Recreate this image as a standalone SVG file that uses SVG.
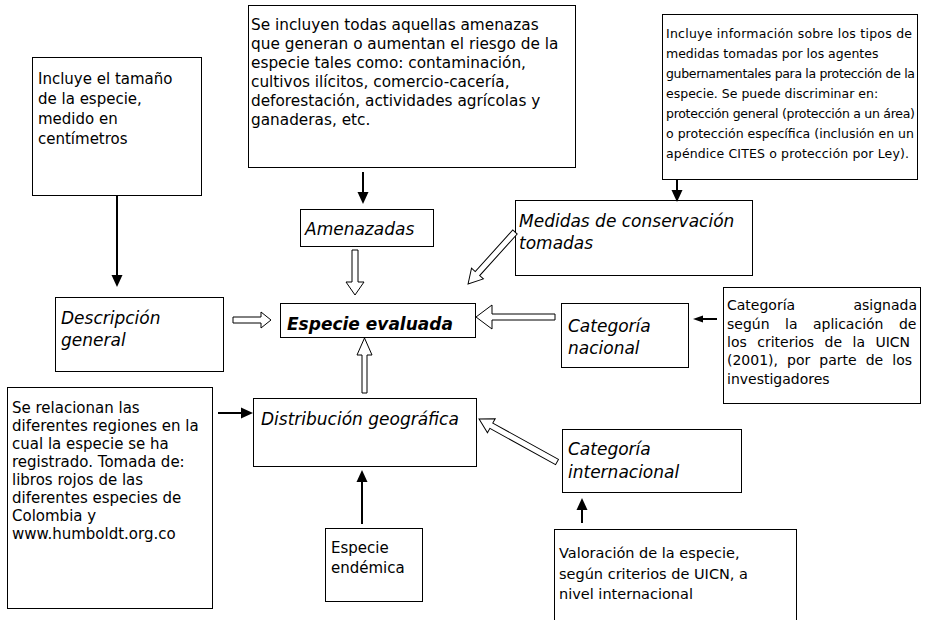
<svg xmlns="http://www.w3.org/2000/svg" width="927" height="620" viewBox="0 0 927 620">
<style>
.box{fill:#fff;stroke:#000;stroke-width:1}
.t{font-family:"DejaVu Sans","Liberation Sans",sans-serif;font-size:15px;fill:#000}
.lab{font-style:italic;font-size:17px}
.blk{fill:#fff;stroke:#000;stroke-width:1}
.sol{stroke:#000;stroke-width:2;fill:none}
</style>
<defs>
<marker id="ah" markerWidth="12" markerHeight="12" refX="2" refY="6" orient="auto" markerUnits="userSpaceOnUse"><path d="M0,0.5 L12,6 L0,11.5 Z" fill="#000"/></marker>
<marker id="ahs" markerWidth="10" markerHeight="8" refX="2" refY="4" orient="auto" markerUnits="userSpaceOnUse"><path d="M0,0.5 L10,4 L0,7.5 Z" fill="#000"/></marker>
</defs>
<rect width="927" height="620" fill="#fff"/>

<g id="n-tamano">
<rect class="box" x="32.5" y="57.5" width="169" height="138"/>
<text class="t" x="38"><tspan x="38" y="84">Incluye el tamaño</tspan><tspan x="38" y="104">de la especie,</tspan><tspan x="38" y="124">medido en</tspan><tspan x="38" y="144">centímetros</tspan></text>
</g>

<g id="n-amenazas-info">
<rect class="box" x="248.5" y="5.5" width="327" height="162"/>
<text class="t" style="font-size:15.3px"><tspan x="251" y="29.5">Se incluyen todas aquellas amenazas</tspan><tspan x="251" y="48.5">que generan o aumentan el riesgo de la</tspan><tspan x="251" y="67.5">especie tales como: contaminación,</tspan><tspan x="251" y="87">cultivos ilícitos, comercio-cacería,</tspan><tspan x="251" y="106">deforestación, actividades agrícolas y</tspan><tspan x="251" y="125">ganaderas, etc.</tspan></text>
</g>

<g id="n-medidas-info">
<rect class="box" x="662.5" y="14.5" width="255" height="165"/>
<text class="t" style="font-size:12.5px" x="666" y="38" textLength="246" lengthAdjust="spacing">Incluye información sobre los tipos de</text>
<text class="t" style="font-size:12.5px" x="666" y="58">medidas tomadas por los agentes</text>
<text class="t" style="font-size:12.5px" x="666" y="78" textLength="249" lengthAdjust="spacing">gubernamentales para la protección de la</text>
<text class="t" style="font-size:12.5px" x="666" y="98">especie. Se puede discriminar en:</text>
<text class="t" style="font-size:12.5px" x="666" y="118" textLength="249" lengthAdjust="spacing">protección general (protección a un área)</text>
<text class="t" style="font-size:12.5px" x="666" y="138" textLength="248" lengthAdjust="spacing">o protección específica (inclusión en un</text>
<text class="t" style="font-size:12.5px" x="666" y="158" textLength="243" lengthAdjust="spacing">apéndice CITES o protección por Ley).</text>
</g>

<g id="n-amenazadas">
<rect class="box" x="300.5" y="209.5" width="133" height="37"/>
<text class="t lab" x="305" y="235">Amenazadas</text>
</g>

<g id="n-medidas">
<rect class="box" x="515.5" y="200.5" width="237" height="75"/>
<text class="t lab"><tspan x="519" y="227">Medidas de conservación</tspan><tspan x="519" y="249">tomadas</tspan></text>
</g>

<g id="n-descripcion">
<rect class="box" x="55.5" y="297.5" width="168" height="74"/>
<text class="t lab"><tspan x="61" y="324">Descripción</tspan><tspan x="61" y="346">general</tspan></text>
</g>

<g id="n-especie">
<rect class="box" x="280.5" y="303.5" width="195" height="34"/>
<text class="t lab" x="287" y="329.5" style="font-weight:bold">Especie evaluada</text>
</g>

<g id="n-cat-nacional">
<rect class="box" x="561.5" y="303.5" width="127" height="64"/>
<text class="t lab"><tspan x="568" y="332">Categoría</tspan><tspan x="568" y="354">nacional</tspan></text>
</g>

<g id="n-cat-asignada">
<rect class="box" x="723.5" y="287.5" width="197" height="116"/>
<text class="t" style="font-size:14px"><tspan x="727" y="310">Categoría</tspan><tspan x="917" y="310" text-anchor="end">asignada</tspan></text>
<text class="t" style="font-size:14px;word-spacing:11px" x="727" y="328.5">según la aplicación de</text>
<text class="t" style="font-size:14px;word-spacing:6px" x="727" y="347">los criterios de la UICN</text>
<text class="t" style="font-size:14px;word-spacing:4.6px" x="727" y="365">(2001), por parte de los</text>
<text class="t" style="font-size:14px" x="727" y="383.5">investigadores</text>
</g>

<g id="n-relacionan">
<rect class="box" x="7.5" y="387.5" width="205" height="221"/>
<text class="t"><tspan x="12" y="413">Se relacionan las</tspan><tspan x="12" y="431">diferentes regiones en la</tspan><tspan x="12" y="449">cual la especie se ha</tspan><tspan x="12" y="467">registrado. Tomada de:</tspan><tspan x="12" y="485">libros rojos de las</tspan><tspan x="12" y="503">diferentes especies de</tspan><tspan x="12" y="521">Colombia y</tspan><tspan x="12" y="539">www.humboldt.org.co</tspan></text>
</g>

<g id="n-distribucion">
<rect class="box" x="253.5" y="398.5" width="223" height="68"/>
<text class="t lab" x="261" y="425">Distribución geográfica</text>
</g>

<g id="n-cat-internacional">
<rect class="box" x="562.5" y="429.5" width="179" height="63"/>
<text class="t lab"><tspan x="568" y="455">Categoría</tspan><tspan x="568" y="478">internacional</tspan></text>
</g>

<g id="n-endemica">
<rect class="box" x="325.5" y="528.5" width="97" height="73"/>
<text class="t"><tspan x="331" y="553">Especie</tspan><tspan x="331" y="573">endémica</tspan></text>
</g>

<g id="n-valoracion">
<rect class="box" x="554.5" y="529.5" width="242" height="100"/>
<text class="t" style="font-size:14.5px"><tspan x="559" y="558">Valoración de la especie,</tspan><tspan x="559" y="578.5">según criterios de UICN, a</tspan><tspan x="559" y="599">nivel internacional</tspan></text>
</g>

<g id="connectors">
<line class="sol" x1="117" y1="196" x2="117" y2="277" marker-end="url(#ah)"/>
<line class="sol" x1="363" y1="172" x2="363" y2="194" marker-end="url(#ah)"/>
<line class="sol" x1="677" y1="179" x2="677" y2="192" marker-end="url(#ah)"/>
<line class="sol" x1="717" y1="319" x2="701" y2="319" marker-end="url(#ahs)"/>
<line class="sol" x1="218" y1="413" x2="243" y2="413" marker-end="url(#ah)"/>
<line class="sol" x1="362" y1="524" x2="362" y2="480" marker-end="url(#ah)"/>
<line class="sol" x1="582" y1="523" x2="582" y2="508" marker-end="url(#ah)"/>
<polygon class="blk" points="352,250 358,250 358,282 364,282 355,295 346,282 352,282"/>
<polygon class="blk" points="555,314 492,314 492,305 476,317 492,329 492,320 555,320"/>
<polygon class="blk" points="362,393 362,355 357,355 364.5,338 372,355 367,355 367,393"/>
<polygon class="blk" points="233,317 261,317 261,312 271,320 261,328 261,323 233,323"/>
<path class="blk" transform="translate(515,232) rotate(132.1)" d="M0,-3 H56 V-8 L70,0 L56,8 V3 H0 Z"/>
<path class="blk" transform="translate(557,462) rotate(208.9)" d="M0,-3 H75 V-8 L89,0 L75,8 V3 H0 Z"/>
</g>
</svg>
